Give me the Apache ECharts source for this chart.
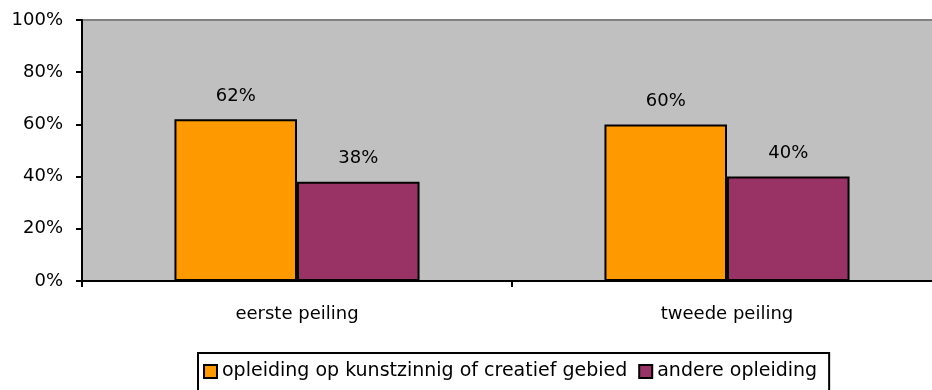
<!DOCTYPE html>
<html>
<head>
<meta charset="utf-8">
<script src="https://cdn.jsdelivr.net/npm/echarts@6/dist/echarts.min.js"></script>
<style>
  html, body { margin: 0; padding: 0; background: #ffffff; }
  #chart { width: 932px; height: 390px; }
</style>
</head>
<body>
<div id="chart"></div>
<script>
// Survey rounds and share of respondents per education type (percent)
const categories = ['eerste peiling', 'tweede peiling'];
const seriesNames = ['opleiding op kunstzinnig of creatief gebied', 'andere opleiding'];
const creatiefValues = [62, 60];
const andereValues = [38, 40];
const yTicks = [0, 20, 40, 60, 80, 100];

const FONT = 'DejaVu Sans';
const chart = echarts.init(document.getElementById('chart'), null, { renderer: 'canvas' });

const barLabel = {
  show: true,
  position: 'top',
  distance: 14,
  formatter: '{c}%',
  color: '#000',
  fontFamily: FONT,
  fontSize: 18
};

chart.setOption({
  animation: false,
  textStyle: { fontFamily: FONT },
  grid: {
    left: 82,
    top: 20,
    width: 860,
    height: 261,
    outerBoundsMode: 'none',
    containLabel: false,
    show: true,
    backgroundColor: '#c0c0c0',
    borderColor: '#808080',
    borderWidth: 2
  },
  legend: {
    data: seriesNames,
    left: 198,
    top: 353,
    orient: 'horizontal',
    icon: 'rect',
    itemWidth: 13,
    itemHeight: 13,
    itemGap: 11,
    padding: [9, 12, 20, 5],
    backgroundColor: '#ffffff',
    borderColor: '#000',
    borderWidth: 2,
    borderRadius: 0,
    textStyle: { fontFamily: FONT, fontSize: 19, color: '#000' }
  },
  xAxis: {
    type: 'category',
    data: categories,
    axisLine: { lineStyle: { color: '#000', width: 2 } },
    axisTick: { show: true, length: 6, lineStyle: { color: '#000', width: 2 } },
    axisLabel: { margin: 24, color: '#000', fontFamily: FONT, fontSize: 18 },
    splitLine: { show: false }
  },
  yAxis: {
    type: 'value',
    min: yTicks[0],
    max: yTicks[yTicks.length - 1],
    interval: yTicks[1] - yTicks[0],
    axisLine: { show: true, lineStyle: { color: '#000', width: 2 } },
    axisTick: { show: true, length: 6, lineStyle: { color: '#000', width: 2 } },
    axisLabel: { margin: 19, color: '#000', fontFamily: FONT, fontSize: 18, formatter: '{value}%' },
    splitLine: { show: false }
  },
  series: [
    {
      name: seriesNames[0],
      type: 'bar',
      data: creatiefValues,
      barGap: '0%',
      barCategoryGap: '43%',
      itemStyle: { color: '#ff9900', borderColor: '#000', borderWidth: 2 },
      label: barLabel
    },
    {
      name: seriesNames[1],
      type: 'bar',
      data: andereValues,
      itemStyle: { color: '#993366', borderColor: '#000', borderWidth: 2 },
      label: barLabel
    }
  ]
});
</script>
</body>
</html>
